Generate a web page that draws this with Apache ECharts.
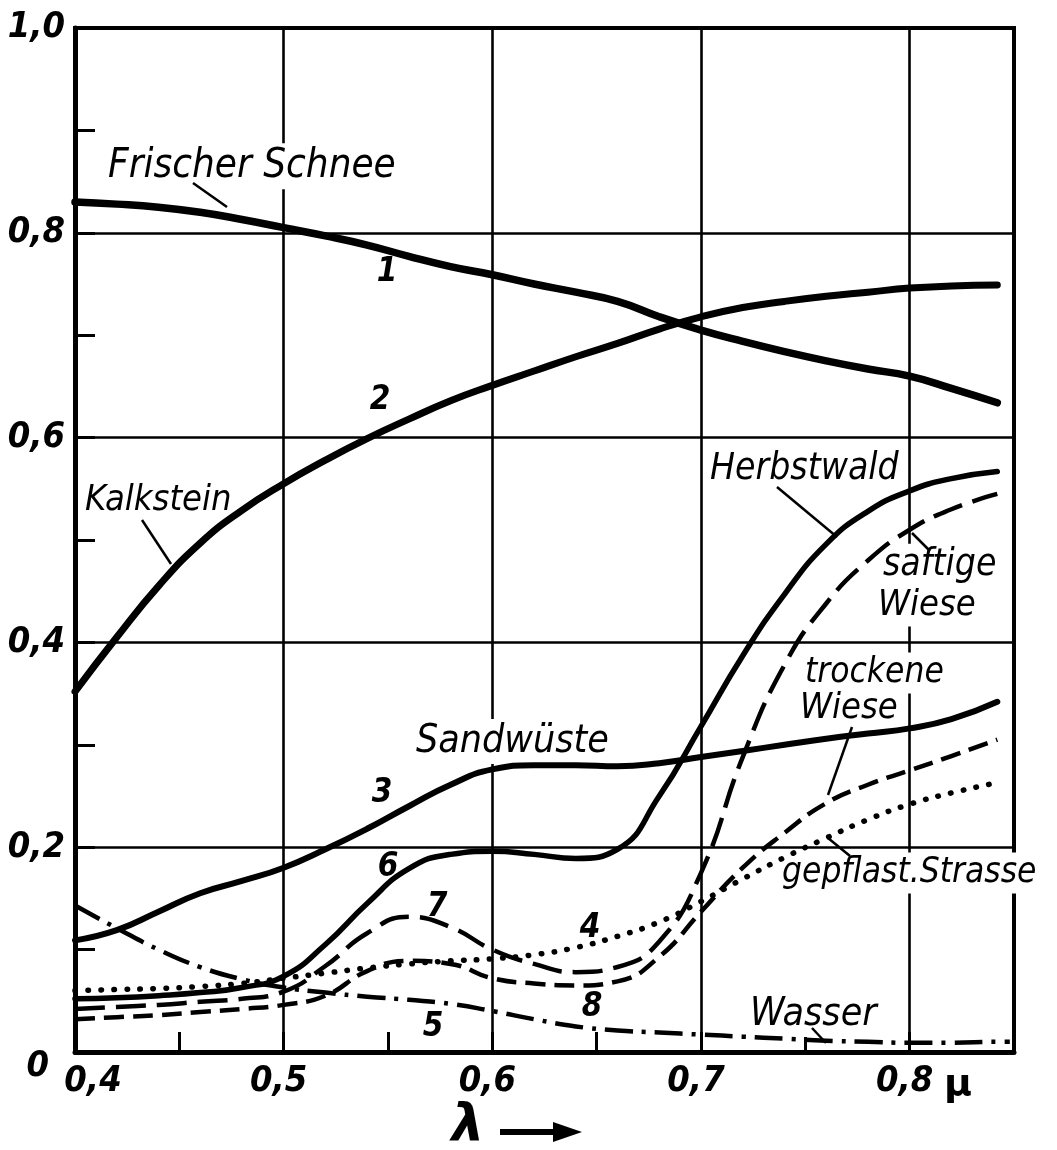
<!DOCTYPE html>
<html><head><meta charset="utf-8">
<script src="https://cdn.jsdelivr.net/npm/echarts@6/dist/echarts.min.js"></script>
<style>html,body{margin:0;padding:0;background:#fff}#c{width:1057px;height:1150px}</style>
</head><body><div id="c"></div>
<script>
// ---- data ----
const wavelengths = [0.40,0.42,0.44,0.46,0.48,0.50,0.52,0.54,0.56,0.58,0.60,0.62,0.64,0.66,0.68,0.70,0.72,0.74,0.76,0.78,0.80,0.82,0.842,0.848];
const frischerSchnee = [0.830,0.828,0.825,0.820,0.813,0.805,0.797,0.788,0.777,0.767,0.759,0.750,0.742,0.733,0.718,0.705,0.694,0.684,0.675,0.667,0.660,0.648,0.634,null];
const kalkstein      = [0.352,0.405,0.455,0.497,0.529,0.555,0.578,0.599,0.618,0.636,0.651,0.665,0.679,0.692,0.706,0.718,0.727,0.733,0.738,0.742,0.746,0.748,0.749,null];
const sandwueste     = [0.109,0.119,0.137,0.155,0.167,0.180,0.198,0.218,0.240,0.261,0.276,0.280,0.280,0.279,0.282,0.288,0.294,0.300,0.306,0.311,0.316,0.325,0.342,null];
const strasse        = [0.060,0.061,0.062,0.064,0.067,0.072,0.077,0.082,0.086,0.089,0.091,0.095,0.102,0.113,0.127,0.147,0.169,0.190,0.209,0.227,0.242,0.253,0.263,null];
const wasser         = [0.143,0.121,0.100,0.083,0.071,0.063,0.058,0.054,0.051,0.047,0.040,0.032,0.025,0.021,0.019,0.017,0.015,0.013,0.011,0.010,0.009,0.009,0.010,0.010];
const herbstwald     = [0.052,0.053,0.055,0.058,0.063,0.074,0.105,0.145,0.179,0.193,0.196,0.193,0.189,0.198,0.250,0.318,0.387,0.447,0.496,0.528,0.548,0.560,0.567,null];
const saftigeWiese   = [0.042,0.044,0.046,0.049,0.052,0.059,0.084,0.116,0.132,0.122,0.100,0.086,0.078,0.083,0.108,0.175,0.288,0.378,0.438,0.480,0.510,0.530,0.545,null];
const trockeneWiese  = [0.032,0.034,0.036,0.039,0.042,0.046,0.055,0.079,0.089,0.086,0.072,0.067,0.065,0.069,0.093,0.137,0.180,0.214,0.243,0.261,0.275,0.289,0.305,null];
const xTickLabels = ['0,4','0,5','0,6','0,7','0,8'];
const yTickLabels = ['0','0,2','0,4','0,6','0,8','1,0'];
const unitLabel = 'μ';
const axisName = 'λ';

// ---- annotation layout (text placement only) ----
const labelFont = '"DejaVu Sans Condensed", "Liberation Sans Narrow", sans-serif';
const numFont = '"Liberation Sans Narrow", "DejaVu Sans Condensed", sans-serif';
const annotations = [
  {text:'Frischer Schnee', x:105, base:180, fs:40},
  {text:'Kalkstein', x:82, base:513, fs:36},
  {text:'Herbstwald', x:707, base:482, fs:37},
  {text:'saftige', x:880, base:578, fs:37},
  {text:'Wiese', x:875, base:618, fs:36},
  {text:'trockene', x:802, base:685, fs:35},
  {text:'Wiese', x:797, base:721, fs:36},
  {text:'Sandwüste', x:413, base:755, fs:39},
  {text:'gepflast.Strasse', x:779, base:885, fs:35},
  {text:'Wasser', x:747, base:1028, fs:39}
];
const curveNumbers = [
  {t:'1',x:387,y:272},{t:'2',x:380,y:400},{t:'3',x:382,y:793},{t:'6',x:388,y:867},
  {t:'7',x:437,y:907},{t:'4',x:590,y:928},{t:'8',x:592,y:1007},{t:'5',x:433,y:1027}
];
const leaders = [[193,183,227,207],[142,520,171,564],[777,487,837,537],[912,533,930,551],[852,727,828,795],[828,838,850,856],[812,1028,826,1043]];

function pairs(arr){ const out=[]; wavelengths.forEach((x,i)=>{ if(arr[i]!==null) out.push([x,arr[i]]); }); return out; }

const chart = echarts.init(document.getElementById('c'), null, {renderer:'canvas'});

function mkSeries(name, arr, width, type, cap){
  return {name, type:'line', data:pairs(arr), showSymbol:false, symbol:'none', smooth:0.5,
    z:3, lineStyle:{color:'#000', width, type, cap: cap||'butt', join:'round'}, emphasis:{disabled:true}};
}

const graphic = [];
annotations.forEach(a=>{
  graphic.push({type:'text', z:1, x:a.x, y:a.base - 0.346*a.fs,
    style:{text:a.text, font:'italic '+a.fs+'px '+labelFont, fill:'#000', verticalAlign:'middle', align:'left',
      backgroundColor:'#fff', padding:[3,3,3,3]}});
});
curveNumbers.forEach(n=>{
  graphic.push({type:'text', z:1, x:n.x, y:n.y,
    style:{text:n.t, font:'italic bold 33px '+numFont, fill:'#000', verticalAlign:'middle', align:'center'}});
});
leaders.forEach(l=>{
  graphic.push({type:'line', z:1, shape:{x1:l[0],y1:l[1],x2:l[2],y2:l[3]}, style:{stroke:'#000', lineWidth:2.5}});
});
graphic.push({type:'text', z:1, x:944, y:1085, style:{text:unitLabel, font:'bold 38px "DejaVu Sans", sans-serif', fill:'#000', verticalAlign:'middle', align:'left'}});
graphic.push({type:'text', z:1, x:468, y:1126, style:{text:axisName, font:'italic bold 52px "DejaVu Sans", sans-serif', fill:'#000', verticalAlign:'middle', align:'center'}});
graphic.push({type:'line', z:1, shape:{x1:500,y1:1132,x2:560,y2:1132}, style:{stroke:'#000', lineWidth:6}});
graphic.push({type:'polygon', z:1, shape:{points:[[553,1122],[582,1132],[553,1142]]}, style:{fill:'#000'}});

const lblStyle = {fontFamily:numFont, fontSize:36, fontWeight:'bold', fontStyle:'italic', color:'#000'};

const option = {
  animation:false,
  backgroundColor:'#fff',
  grid:{left:75, right:43, top:28, bottom:98, show:true, borderColor:'#000', borderWidth:4, backgroundColor:'transparent', containLabel:false, outerBoundsMode:'none'},
  xAxis:[
    {type:'value', min:0.4, max:0.85, interval:0.1, position:'bottom',
     axisLine:{show:true, onZero:false, lineStyle:{color:'#000', width:5}},
     axisTick:{show:false},
     splitLine:{show:true, lineStyle:{color:'#000', width:2.6}},
     axisLabel:Object.assign({show:true, margin:12, showMaxLabel:false, showMinLabel:true,
       rich:{first:Object.assign({padding:[0,0,0,36]}, lblStyle), other:Object.assign({padding:[0,10,0,0]}, lblStyle)},
       formatter:(v)=>{ const k=Math.round((v-0.4)/0.1); if(Math.abs(v-(0.4+k*0.1))<1e-6 && k>=0 && k<xTickLabels.length) return (k===0?'{first|':'{other|')+xTickLabels[k]+'}'; return ''; }}, lblStyle)},
    {type:'value', min:0.4, max:0.85, interval:0.05, position:'bottom',
     axisLine:{show:false}, axisLabel:{show:false}, splitLine:{show:false},
     axisTick:{show:true, inside:true, length:20, lineStyle:{color:'#000', width:3}}}
  ],
  yAxis:[
    {type:'value', min:0, max:1, interval:0.2, position:'left',
     axisLine:{show:true, onZero:false, lineStyle:{color:'#000', width:5}},
     axisTick:{show:false},
     splitLine:{show:true, lineStyle:{color:'#000', width:2.6}},
     axisLabel:Object.assign({show:true, margin:10, showMinLabel:true, showMaxLabel:true,
       rich:{z:Object.assign({padding:[30,16,0,0]}, lblStyle)},
       formatter:(v)=>{ const k=Math.round(v/0.2); if(k===0) return '{z|'+yTickLabels[0]+'}'; return yTickLabels[k]||''; }}, lblStyle)},
    {type:'value', min:0, max:1, interval:0.1, position:'left',
     axisLine:{show:false}, axisLabel:{show:false}, splitLine:{show:false},
     axisTick:{show:true, inside:true, length:20, lineStyle:{color:'#000', width:3}}}
  ],
  series:[
    mkSeries('1 Frischer Schnee', frischerSchnee, 7.5, 'solid', 'round'),
    mkSeries('2 Kalkstein', kalkstein, 7, 'solid', 'round'),
    mkSeries('3 Sandwüste', sandwueste, 6, 'solid', 'round'),
    mkSeries('4 gepflast. Strasse', strasse, 5.5, [0.5,12.5], 'round'),
    mkSeries('5 Wasser', wasser, 4.5, [28,9,4,9], 'butt'),
    mkSeries('6 Herbstwald', herbstwald, 5.5, 'solid', 'round'),
    mkSeries('7 saftige Wiese', saftigeWiese, 4.5, [30,11], 'butt'),
    mkSeries('8 trockene Wiese', trockeneWiese, 4.5, [20,9], 'butt')
  ],
  graphic: graphic
};
chart.setOption(option);
</script>
</body></html>
